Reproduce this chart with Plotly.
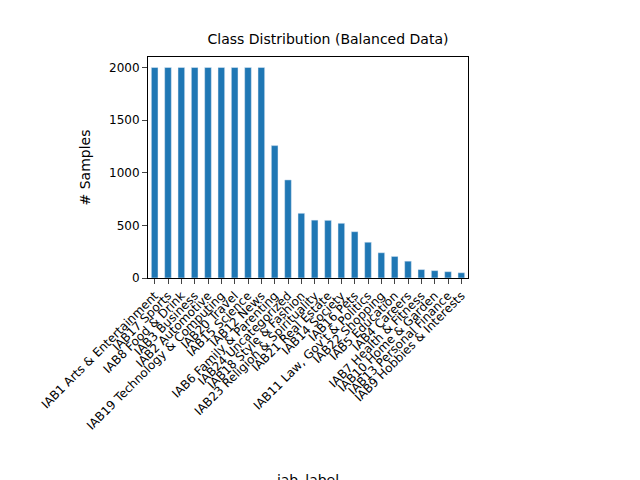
import plotly.graph_objects as go

labels = ["IAB1 Arts & Entertainment", "IAB17 Sports", "IAB8 Food & Drink", "IAB3 Business",
          "IAB2 Automotive", "IAB19 Technology & Computing", "IAB20 Travel", "IAB15 Science",
          "IAB12 News", "IAB6 Family & Parenting", "IAB24 Uncategorized", "IAB18 Style & Fashion",
          "IAB23 Religion & Spirituality", "IAB21 Real Estate", "IAB14 Society", "IAB16 Pets",
          "IAB11 Law, Gov't & Politics", "IAB22 Shopping", "IAB5 Education", "IAB4 Careers",
          "IAB7 Health & Fitness", "IAB10 Home & Garden", "IAB13 Personal Finance",
          "IAB9 Hobbies & Interests"]
counts = [2000, 2000, 2000, 2000, 2000, 2000, 2000, 2000, 2000, 1258, 932, 615,
          550, 548, 520, 440, 340, 240, 205, 160, 80, 70, 60, 50]

fig = go.Figure(go.Bar(x=labels, y=counts, marker_color="#1f77b4", width=0.5))
fig.update_layout(
    width=640, height=480, plot_bgcolor="white", paper_bgcolor="white",
    margin=dict(l=140, r=180, t=49, b=210),
    font=dict(family="DejaVu Sans", size=12, color="black"),
    title=dict(text="Class Distribution (Balanced Data)", x=0.5, xanchor="center",
               y=0.925, yanchor="bottom", font=dict(size=14)),
    showlegend=False,
)
fig.update_xaxes(title_text="iab_label", tickangle=-45, showline=True, linecolor="black",
                 mirror=True, ticks="outside", showgrid=False, range=[-0.5, 23.5],
                 tickmode="linear", dtick=1, automargin=False, title_standoff=140)
fig.update_yaxes(title_text="# Samples", showline=True, linecolor="black", mirror=True,
                 ticks="outside", showgrid=False, range=[0, 2100], dtick=500,
                 zeroline=False, automargin=False)
fig.write_html("out.html")
